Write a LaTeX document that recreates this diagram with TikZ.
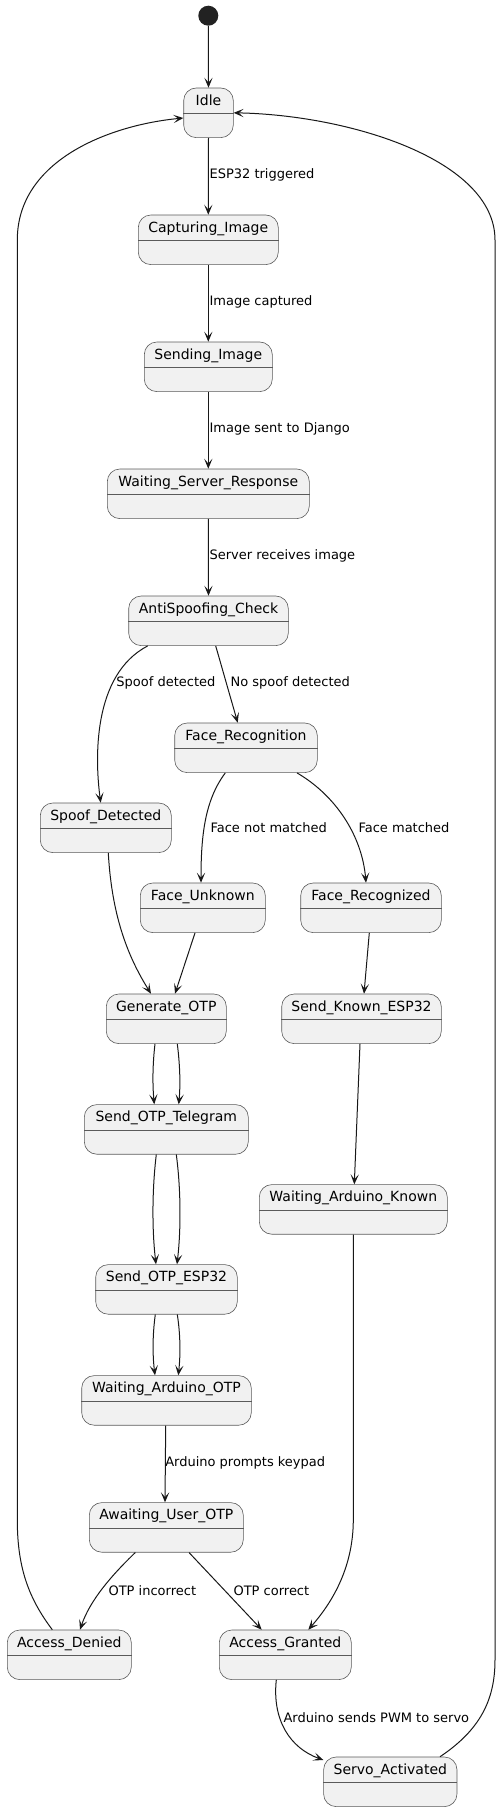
\documentclass[tikz,border=0pt]{standalone}
\usepackage{fontspec}
\setmainfont{DejaVu Sans}
\usetikzlibrary{arrows.meta,calc}
\definecolor{stfill}{HTML}{F1F1F1}
\definecolor{ln}{HTML}{181818}
\definecolor{bd}{HTML}{5A5A5A}
\definecolor{startc}{HTML}{222222}
\tikzset{
 stbox/.style={draw=bd, line width=0.45pt, fill=stfill, rounded corners=9.375pt, minimum height=37.2pt, inner sep=0pt},
 stline/.style={draw=bd, line width=0.45pt},
 stname/.style={font=\fontsize{10.5pt}{12pt}\selectfont, inner sep=0pt, text=black},
 lbl/.style={font=\fontsize{9.75pt}{11pt}\selectfont, inner sep=0pt, anchor=west, text=black},
 tr/.style={draw=ln, line width=0.75pt, -{Stealth[length=7.5pt,width=6.2pt,inset=3.6pt]}},
 startdot/.style={circle, fill=startc, minimum size=15pt, inner sep=0pt},
}
\newcommand{\mkstate}[5]{%
 \node[stbox, minimum width={#4*0.75pt}, anchor=north] (#1) at (#2,#3) {};
 \draw[stline] ($(#1.north west)+(0,25.6)$) -- ($(#1.north east)+(0,25.6)$);
 \node[stname, anchor=base] (#1-t) at ($(#1.north)+(0,17.5)$) {#5};
}
\begin{document}
\begin{tikzpicture}[x=0.75pt, y=-0.75pt]
\useasboundingbox (0,0) rectangle (501,1811);
\node[startdot] (start) at (208.3,15.7) {};
\mkstate{idle}{208.5}{87.7}{49.6}{Idle}
\mkstate{cap}{208.3}{214.7}{140}{Capturing\_Image}
\mkstate{send}{208.3}{341.7}{128}{Sending\_Image}
\mkstate{wsr}{208.3}{468.7}{202}{Waiting\_Server\_Response}
\mkstate{anti}{208.5}{595.7}{159.6}{AntiSpoofing\_Check}
\mkstate{facerec}{246}{722.7}{142.6}{Face\_Recognition}
\mkstate{spoof}{105.8}{802.7}{131}{Spoof\_Detected}
\mkstate{unknown}{202.8}{882.7}{125}{Face\_Unknown}
\mkstate{recognized}{371}{882.7}{140.6}{Face\_Recognized}
\mkstate{genotp}{166.3}{993.7}{120}{Generate\_OTP}
\mkstate{sendknown}{361.5}{993.7}{159.6}{Send\_Known\_ESP32}
\mkstate{telegram}{166.3}{1104.3}{164}{Send\_OTP\_Telegram}
\mkstate{wak}{353.3}{1184.3}{188}{Waiting\_Arduino\_Known}
\mkstate{otpesp}{166.5}{1264.3}{141.6}{Send\_OTP\_ESP32}
\mkstate{wao}{166.5}{1375.3}{169.6}{Waiting\_Arduino\_OTP}
\mkstate{awaiting}{166.3}{1502.3}{154}{Awaiting\_User\_OTP}
\mkstate{denied}{69.3}{1629.7}{124}{Access\_Denied}
\mkstate{granted}{285.3}{1629.7}{132}{Access\_Granted}
\mkstate{servo}{390.3}{1756.7}{133.3}{Servo\_Activated}

% connectors
\draw[tr] (start) -- (idle.north);
\draw[tr] (idle.south) -- (cap.north);
\draw[tr] (cap.south) -- (send.north);
\draw[tr] (send.south) -- (wsr.north);
\draw[tr] (wsr.south) -- (anti.north);
\draw[tr] ($(anti.south)+(-60.8,0)$) .. controls (92,675) and (95,760) .. ($(spoof.north)+(-5.1,0)$);
\draw[tr] ($(anti.south)+(7.2,0)$) -- ($(facerec.north)+(-8.3,0)$);
\draw[tr] ($(facerec.south)+(-20.7,0)$) .. controls (205,800) and (201,835) .. ($(unknown.north)+(-1.8,0)$);
\draw[tr] ($(facerec.south)+(51,0)$) .. controls (335,795) and (362,835) .. ($(recognized.north)+(-5,0)$);
\draw[tr] ($(spoof.south)+(2.5,0)$) .. controls (112,920) and (130,960) .. ($(genotp.north)+(-15.3,0)$);
\draw[tr] ($(unknown.south)+(-7.8,0)$) -- ($(genotp.north)+(8.7,0)$);
\draw[tr] ($(recognized.south)+(-1.7,0)$) -- ($(sendknown.north)+(2.5,0)$);
\draw[tr] ($(genotp.south)+(-11.3,0)$) .. controls (152.5,1065) and (152.5,1085) .. ($(telegram.north)+(-12,0)$);
\draw[tr] ($(genotp.south)+(11,0)$) .. controls (180,1065) and (180.5,1085) .. ($(telegram.north)+(12.4,0)$);
\draw[tr] ($(sendknown.south)+(-1.5,0)$) -- ($(wak.north)+(1,0)$);
\draw[tr] ($(telegram.south)+(-10,0)$) .. controls (152,1190) and (152,1230) .. ($(otpesp.north)+(-10.5,0)$);
\draw[tr] ($(telegram.south)+(10,0)$) .. controls (181,1190) and (181,1230) .. ($(otpesp.north)+(10.5,0)$);
\draw[tr] ($(otpesp.south)+(-11.2,0)$) .. controls (152.5,1335) and (152.5,1355) .. ($(wao.north)+(-11.5,0)$);
\draw[tr] ($(otpesp.south)+(10.8,0)$) .. controls (180.5,1335) and (180.5,1355) .. ($(wao.north)+(11.8,0)$);
\draw[tr] ($(wao.south)+(-0.8,0)$) -- ($(awaiting.north)+(-1.3,0)$);
\draw[tr] (wak.south) -- ++(0,285) .. controls (353.3,1570) and (330,1605) .. ($(granted.north)+(23,0)$);
\draw[tr] ($(awaiting.south)+(-31,0)$) .. controls (112,1575) and (90,1600) .. ($(denied.north)+(10.7,0)$);
\draw[tr] ($(awaiting.south)+(22.7,0)$) -- ($(granted.north)+(-23.6,0)$);
\draw[tr] ($(denied.north)+(-17,0)$) .. controls (30,1600) and (17.3,1570) .. (17.3,1520) -- (17.3,240) .. controls (17.3,160) and (110,125) .. ($(idle.west)+(0,5.2)$);
\draw[tr] ($(granted.south)+(-9,0)$) .. controls (272,1720) and (290,1748) .. ($(servo.north west)+(0,3.3)$);
\draw[tr] ($(servo.north)+(49.7,0)$) .. controls (480,1730) and (495,1700) .. (495,1660) -- (495,240) .. controls (495,160) and (350,115) .. (idle.east);

% labels
\node[lbl] (l1) at (209.3,175) {ESP32 triggered};
\node[lbl] (l2) at (209.3,302.3) {Image captured};
\node[lbl] (l3) at (209.3,429.3) {Image sent to Django};
\node[lbl] (l4) at (209.3,556.3) {Server receives image};
\node[lbl, anchor=east] (l5) at (215.7,683.3) {Spoof detected};
\node[lbl] (l6) at (230.3,683.3) {No spoof detected};
\node[lbl] (l7) at (210.3,827.3) {Face not matched};
\node[lbl] (l8) at (358.3,827.3) {Face matched};
\node[lbl] (l9) at (165,1463.3) {Arduino prompts keypad};
\node[lbl] (l10) at (108.3,1590.3) {OTP incorrect};
\node[lbl] (l11) at (233.3,1590.3) {OTP correct};
\node[lbl] (l12) at (283.3,1717.3) {Arduino sends PWM to servo};
\end{tikzpicture}
\end{document}
